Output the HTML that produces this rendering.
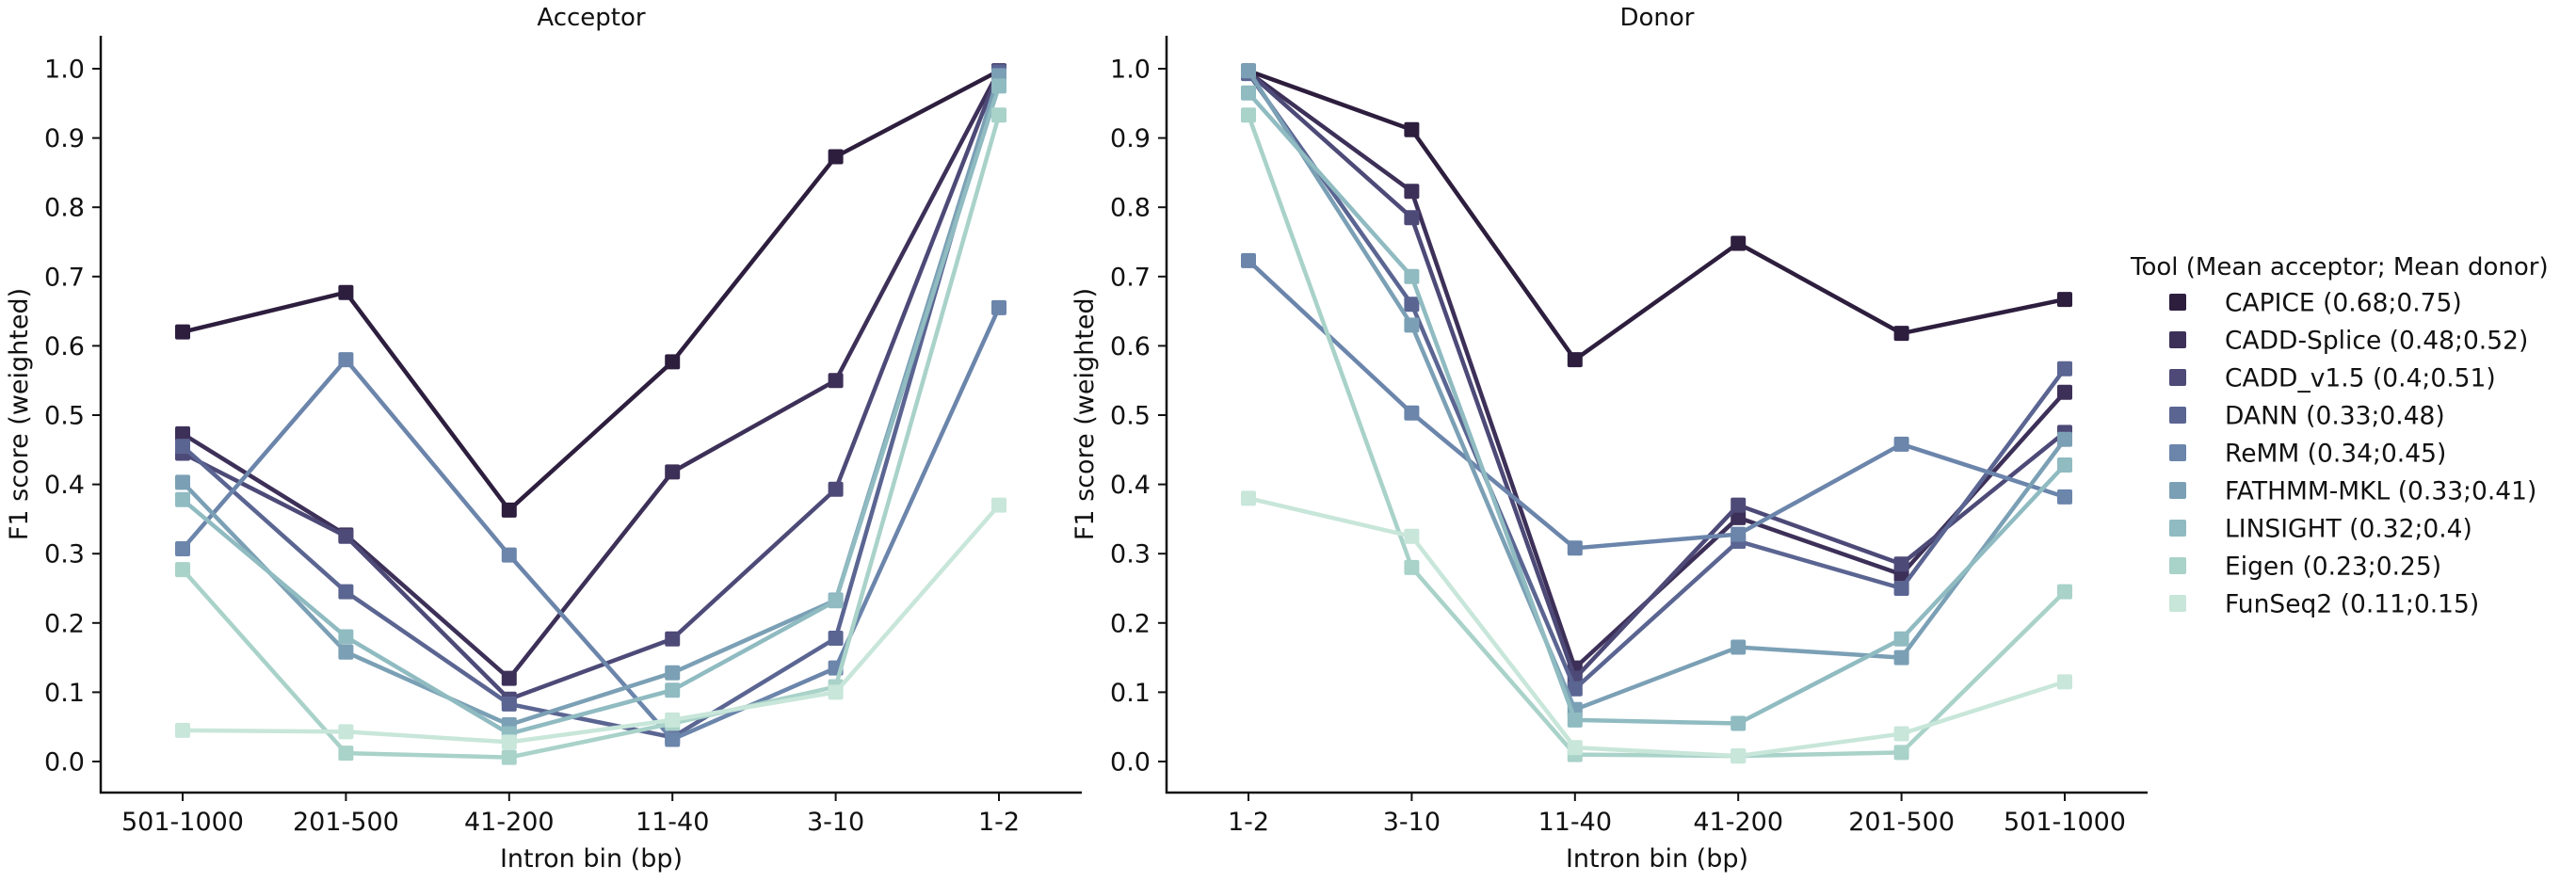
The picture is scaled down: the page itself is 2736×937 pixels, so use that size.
<!DOCTYPE html>
<html><head><meta charset="utf-8"><style>
body{margin:0;background:#fff;}
svg text{font-family:"DejaVu Sans","Liberation Sans",sans-serif;fill:#111;}
</style></head><body>
<svg id="chart" width="2736" height="932" xmlns="http://www.w3.org/2000/svg"></svg>
<script>
const tools = ["CAPICE (0.68;0.75)","CADD-Splice (0.48;0.52)","CADD_v1.5 (0.4;0.51)","DANN (0.33;0.48)","ReMM (0.34;0.45)","FATHMM-MKL (0.33;0.41)","LINSIGHT (0.32;0.4)","Eigen (0.23;0.25)","FunSeq2 (0.11;0.15)"];
const colors = ["#2d1e3e","#3d3058","#4d4a78","#5b6592","#6b85ab","#7ba0b5","#8fbbc1","#a9d2c9","#c8e6da"];
const acceptorCats = ["501-1000","201-500","41-200","11-40","3-10","1-2"];
const donorCats = ["1-2","3-10","11-40","41-200","201-500","501-1000"];
const yTicks = [0.0,0.1,0.2,0.3,0.4,0.5,0.6,0.7,0.8,0.9,1.0];
const accCAPICE=[0.62,0.677,0.363,0.577,0.873,0.997];
const accCADDSplice=[0.473,0.327,0.12,0.418,0.55,0.997];
const accCADDv15=[0.445,0.325,0.09,0.177,0.393,0.997];
const accDANN=[0.455,0.245,0.083,0.035,0.178,0.995];
const accReMM=[0.307,0.58,0.298,0.032,0.135,0.655];
const accFATHMM=[0.403,0.158,0.053,0.128,0.233,0.99];
const accLINSIGHT=[0.378,0.18,0.04,0.103,0.232,0.975];
const accEigen=[0.277,0.012,0.006,0.055,0.108,0.933];
const accFunSeq2=[0.045,0.043,0.028,0.06,0.1,0.37];
const donCAPICE=[0.997,0.912,0.58,0.748,0.618,0.667];
const donCADDSplice=[0.995,0.823,0.135,0.352,0.27,0.533];
const donCADDv15=[0.995,0.785,0.12,0.37,0.285,0.475];
const donDANN=[0.993,0.66,0.105,0.318,0.25,0.567];
const donReMM=[0.723,0.503,0.308,0.328,0.458,0.382];
const donFATHMM=[0.997,0.63,0.075,0.165,0.15,0.465];
const donLINSIGHT=[0.965,0.7,0.06,0.055,0.177,0.428];
const donEigen=[0.933,0.28,0.01,0.008,0.013,0.245];
const donFunSeq2=[0.38,0.325,0.02,0.008,0.04,0.115];
const accSeries=[accCAPICE,accCADDSplice,accCADDv15,accDANN,accReMM,accFATHMM,accLINSIGHT,accEigen,accFunSeq2];
const donSeries=[donCAPICE,donCADDSplice,donCADDv15,donDANN,donReMM,donFATHMM,donLINSIGHT,donEigen,donFunSeq2];

const NS="http://www.w3.org/2000/svg";
const svg=document.getElementById('chart');
function mk(tag,attrs,parent,text){const e=document.createElementNS(NS,tag);for(const k in attrs)e.setAttribute(k,attrs[k]);if(text!==undefined)e.textContent=text;(parent||svg).appendChild(e);return e;}
const Y0=809, PER=736;
function yScale(v){return Y0-v*PER;}
function drawPanel(left,title,cats,series,key){
  const right=left+1042, top=38, bottom=842;
  const g=mk('g',{});
  
  
  const xScale=i=>left+87+i*173.4;
  const t=mk('text',{x:(left+right)/2,y:27,'text-anchor':'middle','font-size':'26'},g,title);
  
  
  const ya=mk('line',{x1:left,y1:top,x2:left,y2:bottom+1,stroke:'#111','stroke-width':2.5},g);
  
  
  const xa=mk('line',{x1:left-1,y1:bottom,x2:right,y2:bottom,stroke:'#111','stroke-width':2.5},g);
  
  
  yTicks.forEach(v=>{
    const y=yScale(v);
    mk('line',{x1:left-9,y1:y,x2:left,y2:y,stroke:'#111','stroke-width':2},g);
    const tl=mk('text',{x:left-17,y:y+9.5,'text-anchor':'end','font-size':'27'},g,v.toFixed(1));
    
    
  });
  cats.forEach((c,i)=>{
    const x=xScale(i);
    mk('line',{x1:x,y1:bottom,x2:x,y2:bottom+9,stroke:'#111','stroke-width':2},g);
    const tl=mk('text',{x:x,y:882,'text-anchor':'middle','font-size':'27'},g,c);
    
    
  });
  const xl=mk('text',{x:(left+right)/2,y:921,'text-anchor':'middle','font-size':'27'},g,'Intron bin (bp)');
  
  
  const yl=mk('text',{x:0,y:0,'text-anchor':'middle','font-size':'27',transform:`translate(${left-78},440) rotate(-90)`},g,'F1 score (weighted)');
  
  
  series.forEach((vals,si)=>{
    const pts=vals.map((v,i)=>xScale(i)+','+yScale(v)).join(' ');
    const pl=mk('polyline',{points:pts,fill:'none',stroke:colors[si],'stroke-width':4.5,'stroke-linejoin':'round'},g);
    
    
    vals.forEach((v,i)=>{
      const r=mk('rect',{x:xScale(i)-8,y:yScale(v)-8,width:16,height:16,rx:2,fill:colors[si]},g);
      
      
    });
  });
}
drawPanel(107,'Acceptor',acceptorCats,accSeries,'acceptor');
drawPanel(1239,'Donor',donorCats,donSeries,'donor');
const lg=mk('g',{});


const lt=mk('text',{x:2263,y:292,'font-size':'26'},lg,'Tool (Mean acceptor; Mean donor)');


tools.forEach((name,i)=>{
  const y=321+i*40;
  const sw=mk('rect',{x:2304,y:y-9,width:18,height:18,rx:2,fill:colors[i]},lg);
  
  
  const tx=mk('text',{x:2363,y:y+9.5,'font-size':'26.5'},lg,name);
  
  
});
</script>
</body></html>
